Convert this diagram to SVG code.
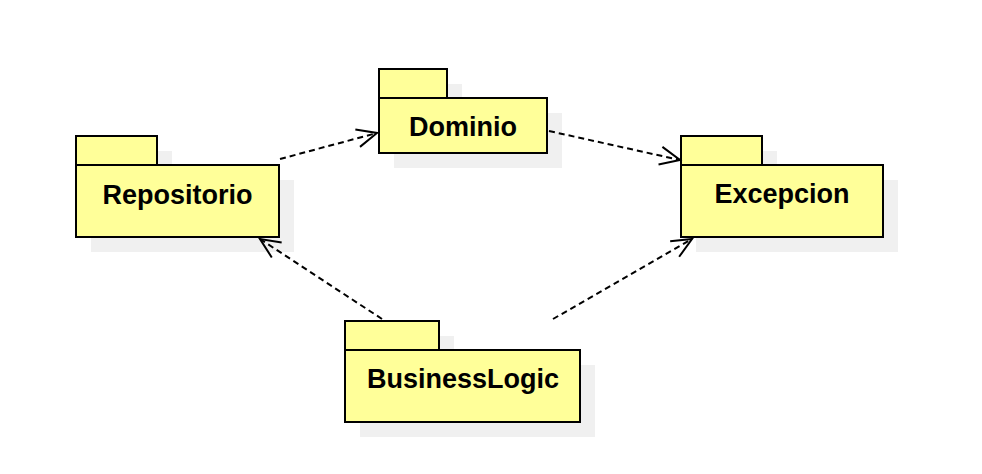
<svg xmlns="http://www.w3.org/2000/svg" width="982" height="474" viewBox="0 0 982 474">
<style>
.sh{fill:#f0f0f0;stroke:none}
.pk{fill:#ffff99;stroke:#000;stroke-width:2}
.lb{font-family:"Liberation Sans",Arial,sans-serif;font-weight:bold;font-size:27px;fill:#000;text-anchor:middle}
.dep{fill:none;stroke:#000;stroke-width:2;stroke-dasharray:6 4;marker-end:url(#open)}
</style>
<defs>
<marker id="open" markerUnits="userSpaceOnUse" markerWidth="30" markerHeight="30" viewBox="-25 -15 30 30" refX="0" refY="0" orient="auto">
<path d="M-20,-9 L0,0 L-20,9" fill="none" stroke="#000" stroke-width="2" stroke-dasharray="none"/>
</marker>
</defs>
<rect width="982" height="474" fill="#fff"/>
<g id="Repositorio">
<rect class="sh" x="91" y="151" width="81" height="29"/>
<rect class="sh" x="91" y="180" width="203" height="72"/>
<rect class="pk" x="76" y="136" width="81" height="29"/>
<rect class="pk" x="76" y="165" width="203" height="72"/>
<text class="lb" x="177.5" y="204">Repositorio</text>
</g>
<g id="Dominio">
<rect class="sh" x="394" y="84" width="68" height="29"/>
<rect class="sh" x="394" y="113" width="168" height="55"/>
<rect class="pk" x="379" y="69" width="68" height="29"/>
<rect class="pk" x="379" y="98" width="168" height="55"/>
<text class="lb" x="463" y="136">Dominio</text>
</g>
<g id="Excepcion">
<rect class="sh" x="696" y="151" width="81" height="29"/>
<rect class="sh" x="696" y="180" width="202" height="72"/>
<rect class="pk" x="681" y="136" width="81" height="29"/>
<rect class="pk" x="681" y="165" width="202" height="72"/>
<text class="lb" x="782" y="203">Excepcion</text>
</g>
<g id="BusinessLogic">
<rect class="sh" x="360" y="336" width="94" height="29"/>
<rect class="sh" x="360" y="365" width="235" height="72"/>
<rect class="pk" x="345" y="321" width="94" height="29"/>
<rect class="pk" x="345" y="350" width="235" height="72"/>
<text class="lb" x="463" y="388">BusinessLogic</text>
</g>
<g id="connectors">
<path class="dep" d="M280,159 L377,133"/>
<path class="dep" d="M549,131 L680,160"/>
<path class="dep" d="M382,319 L260,239"/>
<path class="dep" d="M553,319 L692,239"/>
</g>
</svg>
